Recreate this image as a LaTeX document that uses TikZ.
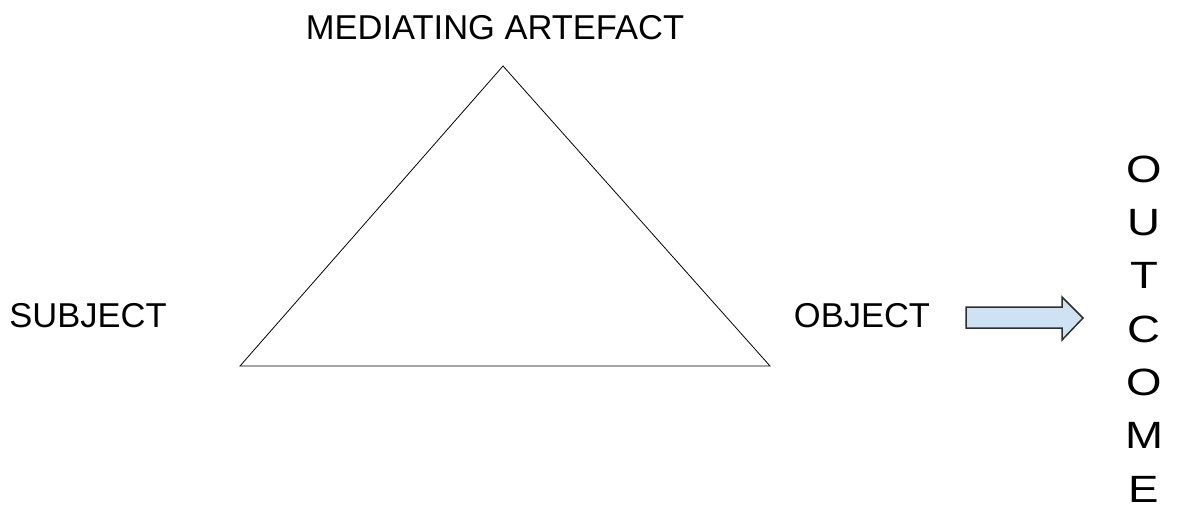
\documentclass[tikz,border=0pt]{standalone}
\usepackage{fontspec}
\setmainfont{Liberation Sans}
\definecolor{arrowfill}{HTML}{CFE2F3}
\definecolor{arrowline}{HTML}{2E2E2E}
\newcommand{\wide}[1]{\scalebox{1.2}[1]{#1}}
\begin{document}
\begin{tikzpicture}[x=1pt,y=-1pt,
  lbl/.style={font=\fontsize{34.5}{40}\selectfont, inner sep=0pt, text=black},
  tri/.style={draw=black, line width=0.8pt, line join=miter},
  bigarrow/.style={draw=arrowline, fill=arrowfill, line width=1.5pt, line join=miter}]
\useasboundingbox (0,0) rectangle (1179,512);
\coordinate (top) at (503,66);
\coordinate (left) at (240,366);
\coordinate (right) at (770,366);
\draw[tri] (top) -- (right) -- (left) -- cycle;
\node[lbl] (med) at (495,28) {MEDIATING ARTEFACT};
\node[lbl] (subj) at (88,316) {SUBJECT};
\node[lbl] (obj) at (862,316) {OBJECT};
\node[lbl, align=center, font=\fontsize{38}{53.3}\selectfont] (out) at (1144,329) {\wide{O}\\\wide{U}\\\wide{T}\\\wide{C}\\\wide{O}\\\wide{M}\\\wide{E}};
\draw[bigarrow] (966,307) -- (1062,307) -- (1062,297) -- (1083,318) -- (1062,340) -- (1062,328) -- (966,328) -- cycle;
\end{tikzpicture}
\end{document}
